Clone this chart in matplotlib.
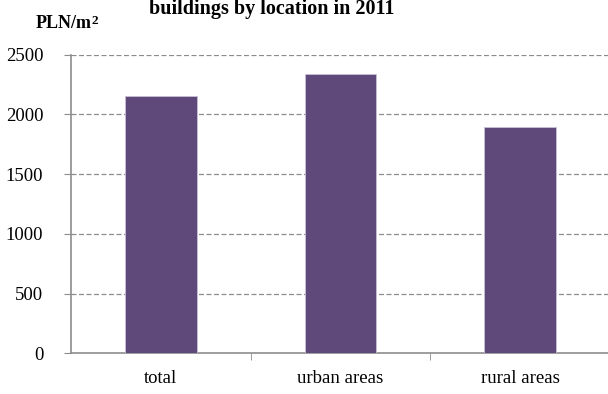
import numpy as np
import matplotlib.pyplot as plt

# average price per m2 by location, 2011
categories = ['total', 'urban areas', 'rural areas']
prices = [2155, 2342, 1898]
y_ticks = [0, 500, 1000, 1500, 2000, 2500]

bar_color = '#5f497a'
grey = '#8c8c8c'

plt.rcParams['font.family'] = ['Liberation Serif', 'DejaVu Serif']

fig = plt.figure(figsize=(6.08, 3.94), dpi=100)
ax = fig.add_axes([0.117, 0.1033, 0.886, 0.758])

x = np.arange(len(categories))
ax.bar(x, prices, width=0.4, color=bar_color, edgecolor='#c9bfd6', linewidth=0.6, zorder=3)

ax.set_xlim(-0.5, 2.5)
ax.set_ylim(0, 2500)
ax.set_yticks(y_ticks)
ax.set_yticklabels([str(v) for v in y_ticks], fontsize=13.5)

# category labels centred on bars, tick marks between categories
ax.set_xticks(x)
ax.set_xticklabels(categories, fontsize=13.5)
ax.tick_params(axis='x', length=0, pad=12)
ax.set_xticks([0.5, 1.5], minor=True)
ax.tick_params(axis='x', which='minor', length=5, color=grey, direction='out')
ax.tick_params(axis='y', length=5, color=grey, direction='out', pad=15)

for v in y_ticks[1:]:
    ax.axhline(v, color=grey, linestyle=(0, (4, 2)), linewidth=0.9, zorder=1)

for s in ['top', 'right']:
    ax.spines[s].set_visible(False)
for s in ['left', 'bottom']:
    ax.spines[s].set_color(grey)
    ax.spines[s].set_linewidth(1.2)

fig.text(0.447, 0.978, 'buildings by location in 2011', ha='center', va='center',
         fontsize=14.5, fontweight='bold')
unit = fig.text(0.058, 0.93, 'PLN/m', ha='left', va='baseline',
                fontsize=13, fontweight='bold')
# superscript 2 placed just after the unit text
ax.annotate('2', xy=(1.0, 1.0), xycoords=unit, xytext=(0, 0), textcoords='offset points',
            ha='left', va='top', fontsize=9.5, fontweight='bold')

plt.savefig('out.png', dpi=100)
